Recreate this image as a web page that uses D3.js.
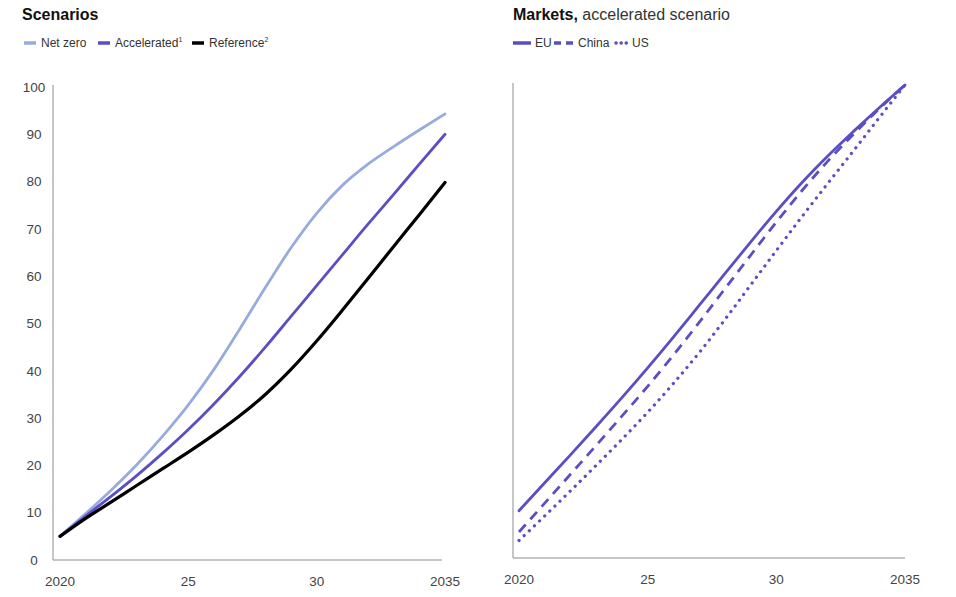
<!DOCTYPE html>
<html>
<head>
<meta charset="utf-8">
<script src="https://cdn.jsdelivr.net/npm/d3@7"></script>
<style>
  html, body { margin: 0; padding: 0; background: #fff; }
  svg { display: block; font-family: "Liberation Sans", Arial, sans-serif; }
</style>
</head>
<body>
<svg id="chart" width="956" height="597"></svg>
<script>
// Years shared by both panels
const years = d3.range(2020, 2036);

// Left panel: scenarios
const netZero     = [5, 9.8, 14.8, 20.2, 26.2, 32.8, 40.3, 48.8, 57.6, 66, 73.3, 79.2, 83.7, 87.4, 90.9, 94.3];
const accelerated = [5, 9.3, 13.5, 17.9, 22.6, 27.6, 33, 38.8, 45, 51.5, 58, 64.5, 71, 77.3, 83.7, 90];
const reference   = [5, 8.8, 12.3, 15.8, 19.3, 22.8, 26.5, 30.5, 35, 40.3, 46.3, 52.8, 59.5, 66.3, 73, 79.8];

// Right panel: markets, accelerated scenario
const eu    = [10, 15.9, 21.8, 27.8, 33.9, 40.2, 46.7, 53.4, 60.1, 66.8, 73.3, 79.4, 85, 90.2, 95.2, 100];
const china = [5.5, 11.6, 17.7, 23.8, 30, 36.3, 42.9, 49.8, 56.9, 64, 71, 77.7, 83.9, 89.6, 95, 100];
const us    = [3.7, 8.9, 14.2, 19.6, 25.1, 30.8, 36.9, 43.4, 50.4, 57.7, 65, 72.2, 79.2, 86.1, 93.1, 100];

// Axis ticks
const xTicks = [2020, 2025, 2030, 2035];
const xTickLabels = ["2020", "25", "30", "2035"];
const yTicks = [0, 10, 20, 30, 40, 50, 60, 70, 80, 90, 100];

const lightBlue = "#97abdc";
const purple = "#5a4ec5";
const axisGrey = "#b3b3b3";
const textGrey = "#444";

const svg = d3.select("#chart");

function panel(opts) {
  const x = d3.scaleLinear().domain([2020, 2035]).range([opts.x0, opts.x1]);
  const y = d3.scaleLinear().domain([0, 100]).range([opts.yBottom, opts.yTop]);
  const g = svg.append("g");

  // axis lines
  g.append("line")
    .attr("x1", opts.axisX).attr("x2", opts.axisX)
    .attr("y1", opts.yTop - 2).attr("y2", opts.yBottom)
    .attr("stroke", axisGrey).attr("stroke-width", 1.5);
  g.append("line")
    .attr("x1", opts.axisX).attr("x2", opts.axisEnd)
    .attr("y1", opts.yBottom).attr("y2", opts.yBottom)
    .attr("stroke", axisGrey).attr("stroke-width", 1.5);

  // x tick labels
  g.selectAll(".xt").data(xTicks).join("text")
    .attr("x", d => x(d)).attr("y", opts.yBottom + 26)
    .attr("text-anchor", "middle")
    .attr("font-size", 13.5).attr("fill", textGrey)
    .text((d, i) => xTickLabels[i]);

  if (opts.yLabels) {
    g.selectAll(".yt").data(yTicks).join("text")
      .attr("x", 34).attr("y", d => y(d))
      .attr("dy", "0.35em")
      .attr("text-anchor", "middle")
      .attr("font-size", 13.5).attr("fill", textGrey)
      .text(d => d);
  }

  const line = d3.line()
    .x((d, i) => x(years[i]))
    .y(d => y(d))
    .curve(d3.curveMonotoneX);

  opts.series.forEach(s => {
    g.append("path")
      .datum(s.values)
      .attr("d", line)
      .attr("fill", "none")
      .attr("stroke", s.color)
      .attr("stroke-width", s.width || 2.8)
      .attr("stroke-linecap", s.cap || "round")
      .attr("stroke-dasharray", s.dash || null);
  });
}

panel({
  x0: 60, x1: 445, axisX: 53, axisEnd: 442, yTop: 87, yBottom: 560, yLabels: true,
  series: [
    { values: netZero, color: lightBlue },
    { values: accelerated, color: purple },
    { values: reference, color: "#000", width: 3.2 }
  ]
});

panel({
  x0: 519, x1: 905, axisX: 513, axisEnd: 905, yTop: 85, yBottom: 558, yLabels: false,
  series: [
    { values: eu, color: purple },
    { values: china, color: purple, dash: "10 7", cap: "butt" },
    { values: us, color: purple, dash: "0.1 7", width: 3.2 }
  ]
});

// Titles
svg.append("text")
  .attr("x", 22).attr("y", 20)
  .attr("font-size", 16).attr("font-weight", "bold").attr("fill", "#111")
  .text("Scenarios");

const t2 = svg.append("text")
  .attr("x", 513).attr("y", 20)
  .attr("font-size", 16).attr("fill", "#111");
t2.append("tspan").attr("font-weight", "bold").text("Markets,");
t2.append("tspan").attr("fill", "#333").text(" accelerated scenario");

// Left legend
const legLeft = [
  { label: "Net zero", sup: "", color: lightBlue, x: 24 },
  { label: "Accelerated", sup: "1", color: purple, x: 98 },
  { label: "Reference", sup: "2", color: "#000", x: 192 }
];
legLeft.forEach(d => {
  svg.append("line")
    .attr("x1", d.x).attr("x2", d.x + 12)
    .attr("y1", 43).attr("y2", 43)
    .attr("stroke", d.color).attr("stroke-width", 3.5);
  const t = svg.append("text")
    .attr("x", d.x + 17).attr("y", 47)
    .attr("font-size", 12).attr("fill", "#333")
    .text(d.label);
  if (d.sup) t.append("tspan").attr("font-size", 7).attr("dy", -5).text(d.sup);
});

// Right legend
const legRight = [
  { label: "EU", dash: null, x: 513, w: 18, tx: 535 },
  { label: "China", dash: "7 5", x: 554, w: 19, tx: 578 },
  { label: "US", dash: "0.1 5", x: 616, w: 11, tx: 632 }
];
legRight.forEach(d => {
  svg.append("line")
    .attr("x1", d.x).attr("x2", d.x + d.w)
    .attr("y1", 43).attr("y2", 43)
    .attr("stroke", purple).attr("stroke-width", 3.5)
    .attr("stroke-linecap", d.label === "US" ? "round" : "butt")
    .attr("stroke-dasharray", d.dash);
  svg.append("text")
    .attr("x", d.tx).attr("y", 47)
    .attr("font-size", 12).attr("fill", "#333")
    .text(d.label);
});
</script>
</body>
</html>
